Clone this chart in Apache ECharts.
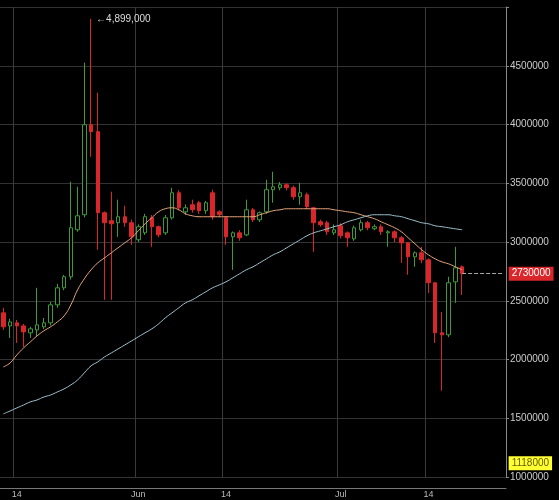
<!DOCTYPE html>
<html>
<head>
<meta charset="utf-8">
<script src="https://cdn.jsdelivr.net/npm/echarts@6/dist/echarts.min.js"></script>
<style>html,body{margin:0;padding:0;background:#000;}#chart{width:559px;height:500px;}</style>
</head>
<body>
<div id="chart"></div>
<script>
var dates = [
  'May 12','May 13','May 14','May 15','May 16','May 17','May 18','May 19','May 20','May 21',
  'May 22','May 23','May 24','May 25','May 26','May 27','May 28','May 29','May 30','May 31',
  'Jun 1','Jun 2','Jun 3','Jun 4','Jun 5','Jun 6','Jun 7','Jun 8','Jun 9','Jun 10',
  'Jun 11','Jun 12','Jun 13','Jun 14','Jun 15','Jun 16','Jun 17','Jun 18','Jun 19','Jun 20',
  'Jun 21','Jun 22','Jun 23','Jun 24','Jun 25','Jun 26','Jun 27','Jun 28','Jun 29','Jun 30',
  'Jul 1','Jul 2','Jul 3','Jul 4','Jul 5','Jul 6','Jul 7','Jul 8','Jul 9','Jul 10',
  'Jul 11','Jul 12','Jul 13','Jul 14','Jul 15','Jul 16','Jul 17','Jul 18','Jul 19','Jul 20',
  'Jul 21','Jul 22','Jul 23','Jul 24','Jul 25'
];

// [open, close, low, high]
var candles = [
  [2397000,2278000,2252000,2440000],[2286000,2320000,2184000,2346000],[2312000,2286000,2141000,2337000],
  [2286000,2235000,2107000,2303000],[2227000,2261000,2184000,2278000],[2252000,2295000,2200000,2610000],
  [2278000,2312000,2260000,2354000],[2312000,2465000,2290000,2490000],[2465000,2610000,2440000,2644000],
  [2610000,2704000,2590000,2720000],[2704000,3121000,2680000,3513000],[3104000,3223000,3087000,3470000],
  [3232000,3998000,3210000,4526000],[3998000,3939000,3726000,4899000],[3939000,3249000,2934000,4271000],
  [3249000,3164000,2508000,3260000],[3181000,3155000,2508000,3428000],[3164000,3215000,3044000,3360000],
  [3215000,3164000,3130000,3308000],[3164000,3044000,2976000,3190000],[3019000,3130000,3000000,3150000],
  [3078000,3215000,3060000,3240000],[3206000,3130000,2959000,3230000],[3130000,3061000,3040000,3140000],
  [3078000,3206000,3060000,3230000],[3206000,3419000,3190000,3462000],[3419000,3291000,3270000,3440000],
  [3257000,3291000,3230000,3320000],[3317000,3274000,3250000,3360000],[3334000,3266000,3240000,3350000],
  [3266000,3334000,3240000,3350000],[3419000,3215000,3190000,3445000],[3257000,3232000,3210000,3270000],
  [3206000,3044000,2976000,3220000],[3044000,3078000,2763000,3090000],[3078000,3036000,3010000,3100000],
  [3061000,3274000,3050000,3360000],[3274000,3189000,3170000,3290000],[3189000,3249000,3170000,3260000],
  [3257000,3445000,3240000,3530000],[3445000,3470000,3334000,3598000],[3462000,3487000,3440000,3510000],
  [3487000,3462000,3440000,3500000],[3462000,3385000,3360000,3480000],[3385000,3419000,3317000,3504000],
  [3402000,3300000,3280000,3420000],[3291000,3164000,2917000,3300000],[3172000,3147000,3130000,3190000],
  [3164000,3087000,3060000,3180000],[3078000,3104000,3060000,3150000],[3138000,3053000,3030000,3160000],
  [3078000,3036000,2959000,3090000],[3027000,3121000,3010000,3140000],[3104000,3164000,3090000,3190000],
  [3164000,3121000,3100000,3180000],[3113000,3130000,3100000,3150000],[3130000,3087000,3060000,3150000],
  [3078000,3087000,2959000,3100000],[3087000,3036000,3000000,3100000],[3036000,2993000,2823000,3050000],
  [2993000,2874000,2721000,3000000],[2874000,2908000,2789000,2920000],[2908000,2848000,2820000,2959000],
  [2848000,2653000,2567000,2860000],[2653000,2227000,2141000,2660000],[2227000,2210000,1735000,2405000],
  [2210000,2653000,2190000,2704000],[2661000,2780000,2482000,2959000],[2789000,2730000,2550000,2800000]
];

var maShort = [
  1937000,1971000,2039000,2099000,2150000,2201000,2244000,2278000,2320000,2371000,
  2465000,2593000,2687000,2763000,2823000,2865000,2908000,2951000,2993000,3036000,
  3095000,3155000,3206000,3257000,3283000,3291000,3274000,3240000,3223000,3215000,
  3215000,3215000,3215000,3215000,3215000,3215000,3215000,3215000,3232000,3249000,
  3266000,3274000,3283000,3283000,3283000,3283000,3283000,3283000,3283000,3274000,
  3266000,3257000,3249000,3232000,3215000,3198000,3172000,3147000,3121000,3087000,
  3036000,2985000,2934000,2891000,2857000,2831000,2814000,2789000,2763000
];

var maLong = [
  1537000,1562000,1588000,1613000,1639000,1656000,1681000,1698000,1724000,1750000,
  1784000,1826000,1886000,1946000,1980000,2022000,2056000,2090000,2124000,2158000,
  2193000,2227000,2261000,2303000,2354000,2397000,2440000,2482000,2508000,2542000,
  2576000,2610000,2635000,2661000,2695000,2729000,2763000,2789000,2823000,2857000,
  2891000,2917000,2951000,2985000,3019000,3053000,3078000,3095000,3112000,3130000,
  3147000,3172000,3189000,3206000,3223000,3232000,3232000,3232000,3223000,3215000,
  3198000,3181000,3164000,3155000,3138000,3130000,3121000,3112000,3104000
];

var yTicks = [1000000, 5000000, 500000];
var lastPrice = 2730000;
var lowTag = 1118000;
var peak = 4899000;

function isMark(d) {
  var day = d.split(' ')[1];
  return day === '1' || day === '14';
}

var chart = echarts.init(document.getElementById('chart'));
chart.setOption({
  backgroundColor: '#000',
  animation: false,
  grid: { left: 0, right: 53, top: 7, bottom: 23 },
  xAxis: {
    type: 'category',
    data: dates,
    offset: 11,
    boundaryGap: true,
    axisLine: { lineStyle: { color: '#777' } },
    axisTick: { show: false },
    axisLabel: {
      color: '#bbb', fontSize: 9, margin: 2,
      interval: function (i, v) { return isMark(v); },
      formatter: function (v) {
        var p = v.split(' ');
        return p[1] === '1' ? p[0] : p[1];
      }
    },
    splitLine: {
      show: true,
      interval: function (i, v) { return isMark(v); },
      lineStyle: { color: '#3a3a3a' }
    }
  },
  yAxis: {
    type: 'value',
    position: 'right',
    min: yTicks[0], max: yTicks[1], interval: yTicks[2],
    axisLine: { show: true, lineStyle: { color: '#888' } },
    axisTick: { show: true, length: 3, lineStyle: { color: '#888' } },
    axisLabel: {
      color: '#ccc', fontSize: 10, margin: 4,
      formatter: function (v) { return v >= 5000000 ? '' : String(v); }
    },
    splitLine: { lineStyle: { color: '#333' } }
  },
  series: [
    {
      type: 'candlestick',
      data: candles,
      barWidth: 4,
      itemStyle: {
        color: '#000', borderColor: '#3f9a3a',
        color0: '#d8262b', borderColor0: '#d8262b', borderWidth: 1
      },
      markPoint: {
        symbol: 'circle', symbolSize: 0,
        data: [{ coord: [13, peak], value: peak }],
        label: {
          show: true, position: 'right', offset: [0, 0], color: '#ddd', fontSize: 10,
          formatter: '\u2190' + peak.toLocaleString('en-US')
        }
      },
      markLine: {
        symbol: 'none', silent: true,
        data: [
          [
            { coord: [68, lastPrice], lineStyle: { color: '#aaa', type: 'dashed', width: 1 },
              label: { show: true, position: 'end', distance: 6, color: '#fff', fontSize: 10,
                backgroundColor: '#d8262b', padding: [2, 3], formatter: String(lastPrice) } },
            { coord: [74, lastPrice] }
          ],
          [
            { coord: [73, lowTag], lineStyle: { color: 'rgba(0,0,0,0)', width: 1 },
              label: { show: true, position: 'end', distance: 6, color: '#665c00', fontSize: 10,
                backgroundColor: '#ffff33', padding: [2, 3], formatter: String(lowTag) } },
            { coord: [74, lowTag] }
          ]
        ]
      }
    },
    {
      type: 'line', data: maShort, symbol: 'none', smooth: true,
      lineStyle: { color: '#e8a67a', width: 1 }
    },
    {
      type: 'line', data: maLong, symbol: 'none', smooth: true,
      lineStyle: { color: '#9ec3d0', width: 1 }
    }
  ]
});
</script>
</body>
</html>
